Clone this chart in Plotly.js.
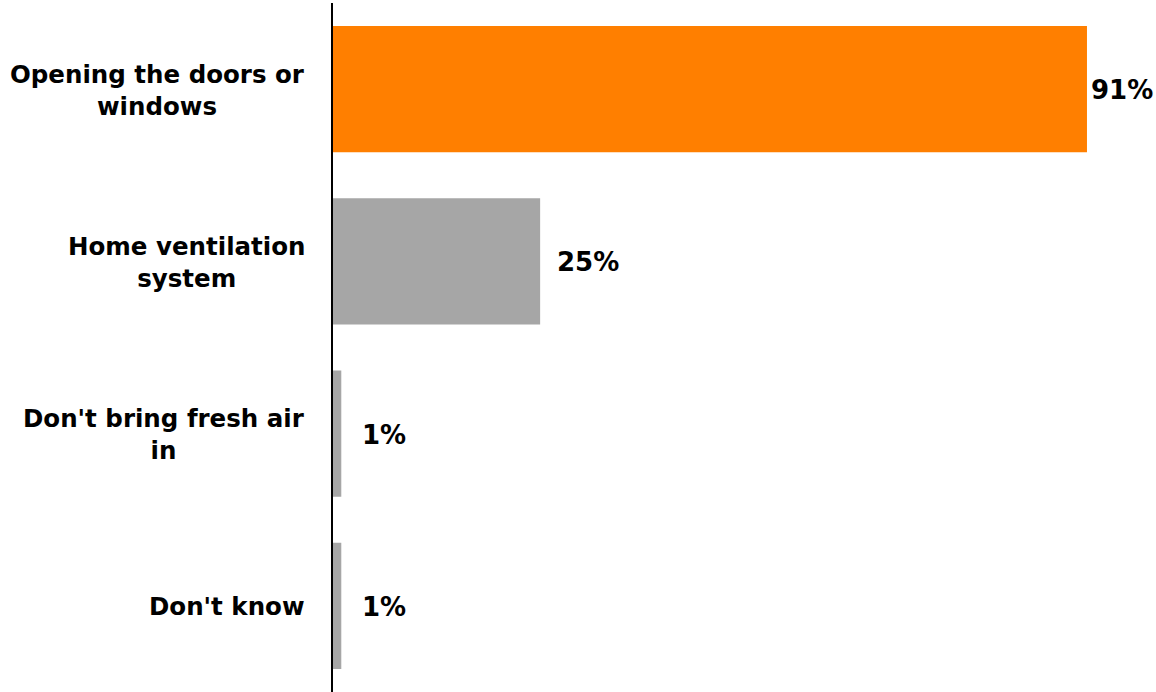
<!DOCTYPE html>
<html>
<head>
<meta charset="utf-8">
<script src="https://cdn.plot.ly/plotly-3.0.1.min.js"></script>
<style>html,body{margin:0;padding:0;background:#fff;}#chart{width:1156px;height:692px;}</style>
</head>
<body>
<div id="chart"></div>
<script>
const categories = ["Opening the doors or<br>windows", "Home ventilation<br>system", "Don't bring fresh air<br>in", "Don't know"];
const values = [91, 25, 1, 1];
const valueLabels = ["91%", "25%", "1%", "1%"];
const barColors = ["#FF7F00", "#A6A6A6", "#A6A6A6", "#A6A6A6"];
const labelShift = [2, 15, 19, 19];

const FONT = "'DejaVu Sans', sans-serif";
const ids = categories.map((c, i) => "c" + i);

const annotations = [];
categories.forEach((c, i) => {
  annotations.push({
    xref: "paper", yref: "y", x: 0, y: ids[i],
    xanchor: "right", yanchor: "middle", align: "center",
    xshift: -26, yshift: -1, showarrow: false, text: c,
    font: {family: FONT, size: 24.5, color: "#000", weight: 700}
  });
  annotations.push({
    xref: "x", yref: "y", x: values[i], y: ids[i],
    xanchor: "left", yanchor: "middle", xshift: labelShift[i], yshift: -1,
    showarrow: false, text: valueLabels[i],
    font: {family: FONT, size: 26, color: "#000", weight: 700}
  });
});

const data = [{
  type: "bar", orientation: "h",
  x: values, y: ids,
  marker: {color: barColors},
  hoverinfo: "none"
}];

const layout = {
  width: 1156, height: 692,
  margin: {l: 333, r: 0, t: 3, b: 0, pad: 0},
  paper_bgcolor: "#fff", plot_bgcolor: "#fff",
  showlegend: false,
  bargap: 0.267,
  xaxis: {range: [0, 99.33], showgrid: false, zeroline: false, showticklabels: false, showline: false, ticks: ""},
  yaxis: {autorange: "reversed", showticklabels: false, showgrid: false, zeroline: false,
          showline: true, linecolor: "#000", linewidth: 2, ticks: ""},
  annotations: annotations
};

Plotly.newPlot("chart", data, layout, {displayModeBar: false, staticPlot: true});
</script>
</body>
</html>
